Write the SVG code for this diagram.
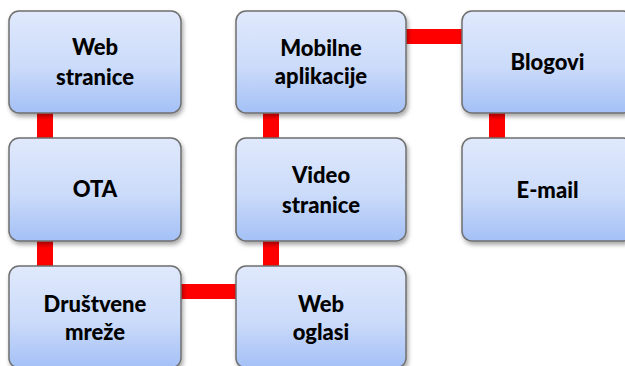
<svg xmlns="http://www.w3.org/2000/svg" width="625" height="366" viewBox="0 0 625 366">
<defs>
<linearGradient id="g" x1="0" y1="0" x2="0" y2="1">
<stop offset="0" stop-color="#e0e9fc"/>
<stop offset="0.55" stop-color="#cbdbfa"/>
<stop offset="1" stop-color="#a3c0f6"/>
</linearGradient>
<filter id="sh" x="-10%" y="-10%" width="125%" height="130%">
<feDropShadow dx="1.5" dy="3" stdDeviation="2" flood-color="#000" flood-opacity="0.35"/>
</filter>
</defs>
<style>
.box{fill:url(#g);stroke:#6f6f6f;stroke-width:1.5;filter:url(#sh)}
.lbl{font-family:Lato,"Open Sans","Liberation Sans",sans-serif;font-weight:900;font-size:22px;fill:#000;text-anchor:middle}
.c{fill:#ff0000}
</style>
<rect width="625" height="366" fill="#ffffff"/>
<g id="connectors">
<rect class="c" x="37" y="110" width="16" height="32"/>
<rect class="c" x="37" y="238" width="16" height="32"/>
<rect class="c" x="178" y="284" width="62" height="15"/>
<rect class="c" x="263" y="238" width="16" height="32"/>
<rect class="c" x="263" y="110" width="16" height="32"/>
<rect class="c" x="403" y="29" width="62" height="15"/>
<rect class="c" x="489" y="110" width="16" height="32"/>
</g>
<g id="web-stranice">
<rect class="box" x="9" y="11" width="172" height="102" rx="10"/>
<text class="lbl" x="95" y="55">Web</text>
<text class="lbl" x="95" y="85">stranice</text>
</g>
<g id="ota">
<rect class="box" x="9" y="138" width="172" height="103" rx="10"/>
<text class="lbl" x="95" y="197">OTA</text>
</g>
<g id="drustvene-mreze">
<rect class="box" x="9" y="266" width="172" height="102" rx="10"/>
<text class="lbl" x="95" y="312">Društvene</text>
<text class="lbl" x="95" y="340">mreže</text>
</g>
<g id="mobilne-aplikacije">
<rect class="box" x="236" y="11" width="170" height="102" rx="10"/>
<text class="lbl" x="321" y="56">Mobilne</text>
<text class="lbl" x="321" y="84">aplikacije</text>
</g>
<g id="video-stranice">
<rect class="box" x="236" y="138" width="170" height="103" rx="10"/>
<text class="lbl" x="321" y="183">Video</text>
<text class="lbl" x="321" y="213">stranice</text>
</g>
<g id="web-oglasi">
<rect class="box" x="236" y="266" width="170" height="102" rx="10"/>
<text class="lbl" x="321" y="312">Web</text>
<text class="lbl" x="321" y="340">oglasi</text>
</g>
<g id="blogovi">
<rect class="box" x="462" y="11" width="171" height="102" rx="10"/>
<text class="lbl" x="547.5" y="70">Blogovi</text>
</g>
<g id="e-mail">
<rect class="box" x="462" y="138" width="171" height="103" rx="10"/>
<text class="lbl" x="547.5" y="198">E-mail</text>
</g>
</svg>
